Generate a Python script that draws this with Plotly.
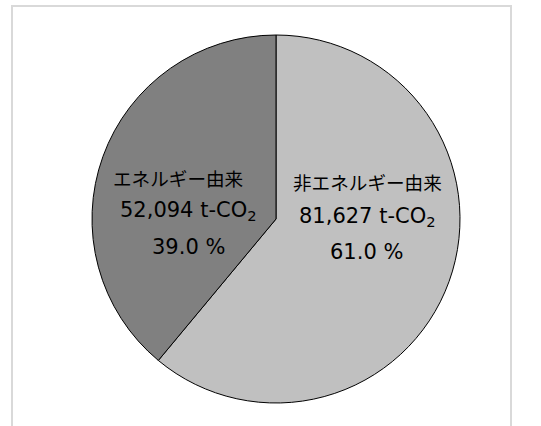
import plotly.graph_objects as go

# ---- data ----
labels = ["非エネルギー由来", "エネルギー由来"]
values = [81627, 52094]
unit = "t-CO<sub>2</sub>"
colors = ["#c0c0c0", "#808080"]

W, H = 541, 426
total = sum(values)
pcts = [v / total * 100 for v in values]

fig = go.Figure()
fig.add_trace(go.Pie(
    labels=labels, values=values, sort=False, direction="clockwise", rotation=0,
    marker=dict(colors=colors, line=dict(color="#000000", width=1)),
    textinfo="none", hoverinfo="label+value+percent", showlegend=False,
    domain=dict(x=[(276 - 184) / W, (276 + 184) / W],
                y=[(H - 219 - 184) / H, (H - 219 + 184) / H]),
))

# label line positions (pixel centres) for each slice
label_pos = [
    [(367.5, 182), (367, 217), (366.5, 252)],
    [(178, 177), (188, 211), (188, 247)],
]
jp_font = dict(family="Noto Sans CJK JP, sans-serif", size=18.6, color="#000000")
lat_font = dict(family="DejaVu Sans, Verdana, sans-serif", size=21, color="#000000")
for i in range(len(labels)):
    texts = [labels[i], f"{values[i]:,} {unit}", f"{pcts[i]:.1f} %"]
    fonts = [jp_font, lat_font, lat_font]
    for (px, py), t, f in zip(label_pos[i], texts, fonts):
        fig.add_annotation(x=px / W, y=1 - py / H, xref="paper", yref="paper",
                           text=t, showarrow=False, font=f,
                           xanchor="center", yanchor="middle")

# chart-area border
fig.add_shape(type="rect", xref="paper", yref="paper",
              x0=12 / W, x1=511 / W, y0=-0.05, y1=1 - 6 / H,
              line=dict(color="#d9d9d9", width=2), fillcolor="rgba(0,0,0,0)", layer="below")

fig.update_layout(width=W, height=H, margin=dict(l=0, r=0, t=0, b=0),
                  paper_bgcolor="#ffffff", plot_bgcolor="#ffffff")
fig.write_html("out.html", config={"displayModeBar": False},
               post_script="document.body.style.margin='0';document.body.style.overflow='hidden';")
